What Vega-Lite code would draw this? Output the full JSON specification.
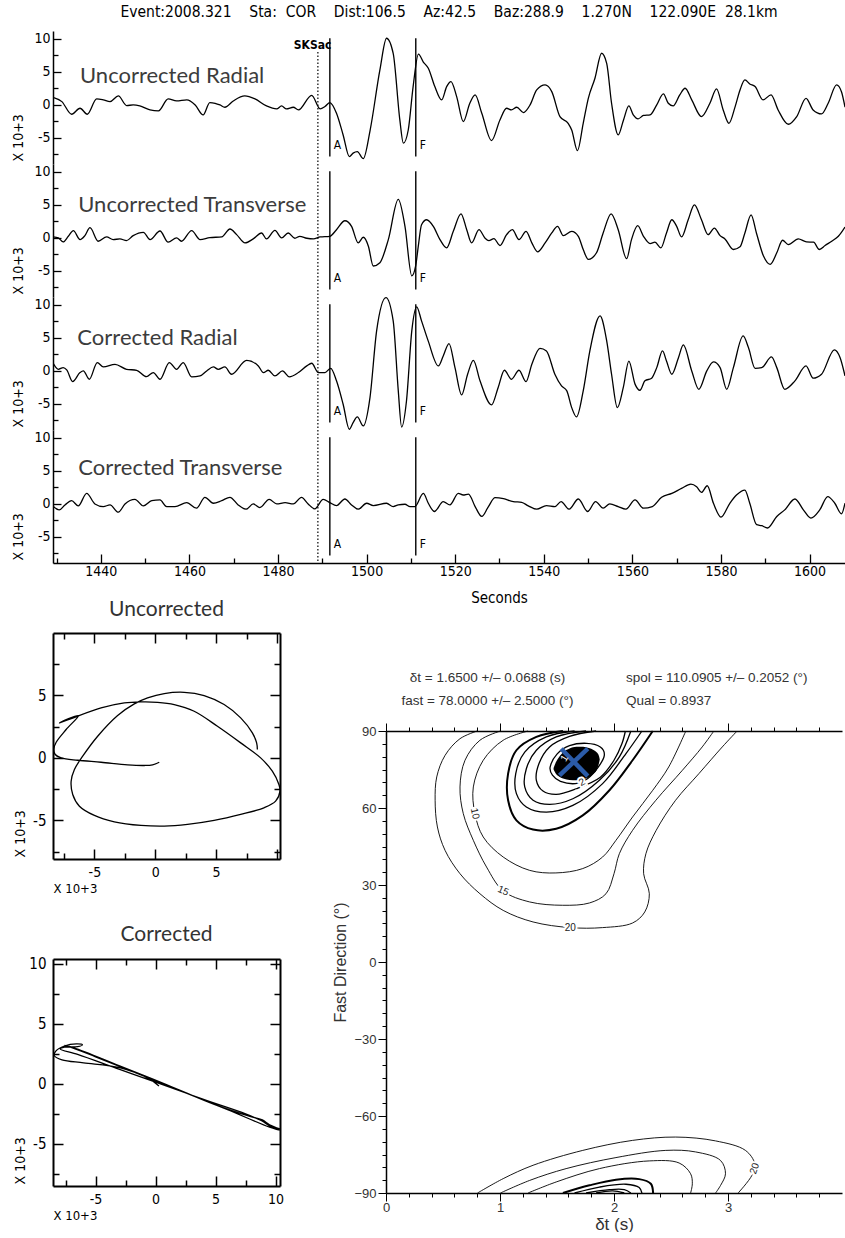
{
"$schema": "https://vega.github.io/schema/vega-lite/v6.json",
"background": "white",
"padding": {"left": 11, "top": 4, "right": 0, "bottom": 0},
"config": {
  "view": {"stroke": null},
  "axis": {"grid": false, "domainColor": "black", "tickColor": "black", "labelColor": "black", "titleColor": "black", "labelOverlap": false, "labelBound": false, "labelFlush": false, "titleFontWeight": "normal"},
  "title": {"fontWeight": "normal"}
},
"datasets": {
  "ur": [{"t":1429.2,"v":1.16},{"t":1431.2,"v":0.5},{"t":1433.4,"v":-1.41},{"t":1435.3,"v":-0.5},{"t":1436.95,"v":-1.41},{"t":1439.06,"v":0.91},{"t":1440.56,"v":0.76},{"t":1442.07,"v":0.5},{"t":1443.95,"v":1.36},{"t":1445.83,"v":-0.1},{"t":1447.3,"v":0},{"t":1448.8,"v":-0.15},{"t":1451.1,"v":-0.76},{"t":1453.0,"v":-0.91},{"t":1455.2,"v":0.91},{"t":1457.1,"v":0.6},{"t":1459.4,"v":0.76},{"t":1461.3,"v":0},{"t":1463.1,"v":-1.52},{"t":1464.6,"v":0.35},{"t":1465.8,"v":0.25},{"t":1466.9,"v":0},{"t":1468.0,"v":-0.35},{"t":1469.9,"v":0.6},{"t":1472.5,"v":1.36},{"t":1474.8,"v":0.91},{"t":1477.4,"v":-0.15},{"t":1479.7,"v":-0.6},{"t":1480.8,"v":-0.15},{"t":1481.9,"v":-0.6},{"t":1483.45,"v":-0.35},{"t":1484.6,"v":-0.76},{"t":1487.6,"v":1.46},{"t":1489.5,"v":-0.6},{"t":1490.6,"v":-0.25},{"t":1491.7,"v":0.35},{"t":1493.2,"v":-1.26},{"t":1494.7,"v":-4.55},{"t":1496.1,"v":-7.83},{"t":1496.95,"v":-7.3},{"t":1497.9,"v":-7.07},{"t":1499.25,"v":-8.13},{"t":1500.8,"v":-3.8},{"t":1503.0,"v":5.3},{"t":1504.5,"v":10.1},{"t":1506.0,"v":7.8},{"t":1507.5,"v":-2.27},{"t":1508.3,"v":-5.8},{"t":1509.4,"v":-3.8},{"t":1510.5,"v":2.78},{"t":1511.7,"v":7.7},{"t":1512.8,"v":6.5},{"t":1513.93,"v":5.56},{"t":1515.4,"v":2.78},{"t":1516.94,"v":0.76},{"t":1518.07,"v":2.78},{"t":1519.05,"v":3.54},{"t":1520.33,"v":1.26},{"t":1521.83,"v":-2.53},{"t":1523.3,"v":0.25},{"t":1524.5,"v":1.52},{"t":1526.0,"v":-1.26},{"t":1528.2,"v":-5.4},{"t":1530.1,"v":-2.27},{"t":1531.6,"v":-0.5},{"t":1532.7,"v":-0.76},{"t":1533.9,"v":-0.35},{"t":1535.4,"v":-1.16},{"t":1536.9,"v":0},{"t":1538.4,"v":2.27},{"t":1540.3,"v":3.03},{"t":1541.8,"v":2.02},{"t":1543.65,"v":-1.77},{"t":1545.5,"v":-2.78},{"t":1546.3,"v":-3.79},{"t":1547.6,"v":-6.92},{"t":1548.9,"v":-2.78},{"t":1550.05,"v":1.0},{"t":1551.55,"v":4.04},{"t":1553.05,"v":7.83},{"t":1554.2,"v":6.3},{"t":1555.3,"v":0.25},{"t":1556.8,"v":-4.55},{"t":1558.0,"v":-2.27},{"t":1559.2,"v":-0.15},{"t":1560.2,"v":-1.5},{"t":1561.3,"v":-2.1},{"t":1562.5,"v":-1.6},{"t":1564.0,"v":-1.5},{"t":1565.5,"v":0},{"t":1567.0,"v":1.67},{"t":1568.1,"v":0.25},{"t":1569.2,"v":-0.15},{"t":1570.7,"v":1.52},{"t":1571.9,"v":2.53},{"t":1573.4,"v":0.76},{"t":1575.6,"v":-1.77},{"t":1577.5,"v":0.25},{"t":1579.0,"v":2.42},{"t":1580.5,"v":-0.76},{"t":1581.8,"v":-2.78},{"t":1583.2,"v":-0.25},{"t":1584.3,"v":2.27},{"t":1585.4,"v":3.79},{"t":1586.5,"v":3.18},{"t":1587.7,"v":2.78},{"t":1589.5,"v":0.76},{"t":1591.3,"v":1.52},{"t":1592.9,"v":-0.76},{"t":1595.2,"v":-2.93},{"t":1597.1,"v":-1.77},{"t":1599.2,"v":1.0},{"t":1600.8,"v":-0.76},{"t":1602.7,"v":-1.36},{"t":1604.2,"v":0.25},{"t":1606.1,"v":3.03},{"t":1607.2,"v":2.0},{"t":1608.0,"v":-0.35}],
  "ut": [{"t":1429.28,"v":0.15},{"t":1430.4,"v":0},{"t":1431.5,"v":-0.6},{"t":1432.66,"v":0.25},{"t":1433.8,"v":1.1},{"t":1435.3,"v":-0.25},{"t":1436.4,"v":0.35},{"t":1437.55,"v":1.55},{"t":1439.4,"v":-0.5},{"t":1441.3,"v":0.15},{"t":1442.8,"v":-0.25},{"t":1444.3,"v":-0.15},{"t":1445.8,"v":-0.4},{"t":1447.3,"v":0.35},{"t":1449.6,"v":0.85},{"t":1451.1,"v":-0.25},{"t":1453.35,"v":1.05},{"t":1455.2,"v":-0.65},{"t":1457.1,"v":0},{"t":1458.2,"v":-0.5},{"t":1460.5,"v":1.1},{"t":1462.4,"v":-0.25},{"t":1464.6,"v":0.05},{"t":1467.3,"v":0.15},{"t":1469.15,"v":1.35},{"t":1470.66,"v":0.5},{"t":1472.55,"v":-0.75},{"t":1474.4,"v":-0.15},{"t":1476.3,"v":0.75},{"t":1477.4,"v":-0.15},{"t":1479.3,"v":1.15},{"t":1480.8,"v":0},{"t":1482.3,"v":0.75},{"t":1483.8,"v":-0.05},{"t":1484.9,"v":0.25},{"t":1486.5,"v":-0.05},{"t":1488.0,"v":-0.15},{"t":1489.5,"v":0.15},{"t":1491.7,"v":0.25},{"t":1493.2,"v":1.25},{"t":1495.1,"v":2.6},{"t":1496.6,"v":1.75},{"t":1498.1,"v":-0.75},{"t":1499.25,"v":0.1},{"t":1500.4,"v":-1.25},{"t":1501.5,"v":-4.25},{"t":1503.0,"v":-3.75},{"t":1504.9,"v":-0.25},{"t":1507.15,"v":5.85},{"t":1508.66,"v":1.75},{"t":1510.2,"v":-5.75},{"t":1511.07,"v":-4.25},{"t":1511.67,"v":-1.25},{"t":1512.4,"v":2.0},{"t":1513.55,"v":2.75},{"t":1515.06,"v":1.75},{"t":1516.56,"v":-0.25},{"t":1518.07,"v":-1.5},{"t":1519.57,"v":1.0},{"t":1521.3,"v":3.65},{"t":1522.6,"v":1.25},{"t":1523.7,"v":-0.75},{"t":1525.37,"v":1.25},{"t":1526.7,"v":0},{"t":1527.6,"v":-0.4},{"t":1528.75,"v":-0.1},{"t":1530.1,"v":-1.15},{"t":1531.6,"v":0.5},{"t":1532.9,"v":1.25},{"t":1534.4,"v":-0.25},{"t":1536.0,"v":1.0},{"t":1537.3,"v":-0.75},{"t":1538.6,"v":-2.1},{"t":1540.3,"v":-0.75},{"t":1541.8,"v":0.75},{"t":1543.1,"v":1.75},{"t":1544.4,"v":0.35},{"t":1546.3,"v":1.0},{"t":1547.8,"v":0.25},{"t":1548.9,"v":-1.75},{"t":1550.05,"v":-3.25},{"t":1551.9,"v":-2.25},{"t":1553.4,"v":0.75},{"t":1555.2,"v":3.65},{"t":1556.8,"v":1.25},{"t":1558.7,"v":-3.15},{"t":1559.8,"v":-0.25},{"t":1561.2,"v":1.85},{"t":1562.5,"v":0.25},{"t":1564.0,"v":-0.85},{"t":1565.1,"v":-0.65},{"t":1566.45,"v":-1.5},{"t":1567.7,"v":0.75},{"t":1568.9,"v":2.75},{"t":1570.0,"v":1.75},{"t":1571.1,"v":0.15},{"t":1572.6,"v":2.75},{"t":1574.0,"v":5.0},{"t":1575.6,"v":2.75},{"t":1577.1,"v":0.5},{"t":1578.5,"v":1.5},{"t":1579.8,"v":0.35},{"t":1580.9,"v":-0.15},{"t":1582.8,"v":-1.75},{"t":1584.3,"v":-1.35},{"t":1585.4,"v":0.75},{"t":1586.8,"v":3.5},{"t":1588.0,"v":0.75},{"t":1589.6,"v":-2.75},{"t":1591.1,"v":-4.0},{"t":1592.6,"v":-2.25},{"t":1593.9,"v":-0.35},{"t":1595.2,"v":-1.0},{"t":1597.45,"v":-0.15},{"t":1599.3,"v":-0.6},{"t":1600.9,"v":-0.65},{"t":1602.2,"v":-1.75},{"t":1603.5,"v":-1.15},{"t":1605.0,"v":-0.5},{"t":1606.5,"v":0.25},{"t":1608.0,"v":1.65}],
  "cr": [{"t":1429.28,"v":1.11},{"t":1430.4,"v":0.25},{"t":1431.5,"v":0.5},{"t":1432.3,"v":0.15},{"t":1433.64,"v":-1.62},{"t":1435.3,"v":-0.25},{"t":1436.05,"v":0},{"t":1437.4,"v":-1.26},{"t":1439.2,"v":1.26},{"t":1440.56,"v":0.6},{"t":1443.2,"v":1.0},{"t":1445.8,"v":0.25},{"t":1448.1,"v":0.1},{"t":1450.3,"v":-0.86},{"t":1451.85,"v":-0.25},{"t":1453.35,"v":-1.26},{"t":1455.46,"v":1.26},{"t":1457.1,"v":0.25},{"t":1458.6,"v":1.26},{"t":1460.5,"v":-0.9},{"t":1462.4,"v":-0.76},{"t":1463.9,"v":0},{"t":1465.4,"v":0.6},{"t":1466.5,"v":0.25},{"t":1468.0,"v":0.6},{"t":1469.5,"v":-0.5},{"t":1472.9,"v":1.6},{"t":1475.55,"v":0.76},{"t":1476.7,"v":-0.25},{"t":1477.8,"v":0.1},{"t":1479.3,"v":-0.76},{"t":1481.0,"v":0},{"t":1482.55,"v":-0.9},{"t":1484.6,"v":-0.25},{"t":1486.5,"v":0.76},{"t":1487.6,"v":1.16},{"t":1489.1,"v":-0.25},{"t":1490.6,"v":-0.25},{"t":1491.9,"v":0.4},{"t":1493.2,"v":-1.5},{"t":1494.7,"v":-5.05},{"t":1496.1,"v":-8.84},{"t":1496.95,"v":-7.83},{"t":1497.9,"v":-6.97},{"t":1499.25,"v":-8.33},{"t":1500.76,"v":-4.04},{"t":1502.26,"v":6.06},{"t":1504.37,"v":11.1},{"t":1506.0,"v":7.58},{"t":1507.15,"v":-3.03},{"t":1507.9,"v":-8.5},{"t":1509.0,"v":-4.55},{"t":1510.2,"v":6.06},{"t":1511.3,"v":9.7},{"t":1512.4,"v":7.58},{"t":1513.9,"v":4.55},{"t":1516.2,"v":0.76},{"t":1517.3,"v":2.27},{"t":1518.6,"v":4.14},{"t":1519.95,"v":0.5},{"t":1521.45,"v":-3.64},{"t":1522.8,"v":-0.5},{"t":1524.1,"v":1.6},{"t":1525.6,"v":-1.5},{"t":1528.2,"v":-5.15},{"t":1529.7,"v":-2.5},{"t":1531.1,"v":0.1},{"t":1532.7,"v":-1.26},{"t":1534.4,"v":0.1},{"t":1536.0,"v":-1.62},{"t":1537.3,"v":1.0},{"t":1539.14,"v":3.43},{"t":1540.6,"v":3.03},{"t":1542.5,"v":-0.5},{"t":1544.0,"v":-2.27},{"t":1545.2,"v":-3.03},{"t":1546.3,"v":-5.56},{"t":1547.4,"v":-6.97},{"t":1548.9,"v":-3.03},{"t":1550.4,"v":3.03},{"t":1552.7,"v":8.33},{"t":1554.2,"v":4.55},{"t":1555.3,"v":-0.5},{"t":1556.6,"v":-5.56},{"t":1557.95,"v":-2.5},{"t":1559.2,"v":1.5},{"t":1560.6,"v":-2.0},{"t":1561.7,"v":-2.93},{"t":1562.84,"v":-1.5},{"t":1564.35,"v":-1.1},{"t":1565.5,"v":0.5},{"t":1566.8,"v":3.03},{"t":1567.7,"v":1.5},{"t":1568.9,"v":-0.5},{"t":1570.4,"v":2.0},{"t":1571.5,"v":3.94},{"t":1573.4,"v":0},{"t":1575.0,"v":-2.78},{"t":1576.8,"v":0},{"t":1578.3,"v":1.36},{"t":1579.8,"v":0.5},{"t":1581.3,"v":-2.78},{"t":1582.8,"v":0.5},{"t":1585.0,"v":5.3},{"t":1586.2,"v":3.54},{"t":1587.7,"v":0.4},{"t":1589.2,"v":0.5},{"t":1591.4,"v":2.12},{"t":1592.6,"v":0.5},{"t":1594.4,"v":-2.78},{"t":1596.7,"v":-1.5},{"t":1599.2,"v":0.76},{"t":1600.8,"v":-1.1},{"t":1602.7,"v":-0.5},{"t":1605.6,"v":3.2},{"t":1606.9,"v":2.0},{"t":1608.0,"v":-0.76}],
  "ct": [{"t":1429.28,"v":-0.4},{"t":1430.6,"v":-0.9},{"t":1431.9,"v":-0.15},{"t":1433.4,"v":0.5},{"t":1434.9,"v":-0.3},{"t":1436.8,"v":1.6},{"t":1438.66,"v":0},{"t":1440.56,"v":-0.4},{"t":1442.07,"v":-0.15},{"t":1443.95,"v":-1.25},{"t":1445.45,"v":0},{"t":1447.7,"v":0.7},{"t":1449.6,"v":-0.3},{"t":1451.5,"v":0.5},{"t":1453.35,"v":0.6},{"t":1454.86,"v":-0.4},{"t":1456.74,"v":-0.4},{"t":1459.4,"v":0.2},{"t":1461.6,"v":-0.65},{"t":1463.5,"v":1.0},{"t":1465.4,"v":0.1},{"t":1467.3,"v":0.5},{"t":1469.15,"v":1.0},{"t":1471.0,"v":-0.15},{"t":1472.8,"v":-0.8},{"t":1474.4,"v":0},{"t":1475.9,"v":-0.55},{"t":1478.0,"v":0.7},{"t":1479.7,"v":0},{"t":1481.6,"v":0.2},{"t":1483.45,"v":0},{"t":1485.3,"v":1.0},{"t":1486.8,"v":0},{"t":1488.3,"v":-0.75},{"t":1490.2,"v":0.7},{"t":1491.7,"v":0.2},{"t":1493.2,"v":-0.25},{"t":1495.1,"v":0.75},{"t":1496.6,"v":-0.15},{"t":1498.1,"v":-0.8},{"t":1500.0,"v":0.1},{"t":1501.5,"v":-0.25},{"t":1504.5,"v":0.1},{"t":1506.0,"v":-0.4},{"t":1507.15,"v":-0.15},{"t":1508.66,"v":-0.05},{"t":1509.8,"v":-0.4},{"t":1510.9,"v":-0.4},{"t":1512.8,"v":1.6},{"t":1513.93,"v":0.1},{"t":1515.3,"v":-1.15},{"t":1517.3,"v":0.35},{"t":1518.8,"v":-0.15},{"t":1520.7,"v":1.6},{"t":1521.8,"v":1.35},{"t":1523.0,"v":1.5},{"t":1524.5,"v":-0.4},{"t":1526.0,"v":-1.9},{"t":1527.5,"v":-0.4},{"t":1529.0,"v":0.95},{"t":1530.9,"v":0.8},{"t":1533.1,"v":0.35},{"t":1535.0,"v":0.25},{"t":1536.5,"v":-0.3},{"t":1538.4,"v":-0.8},{"t":1540.6,"v":-0.25},{"t":1542.5,"v":-0.4},{"t":1543.9,"v":0.35},{"t":1545.7,"v":-0.8},{"t":1547.8,"v":0.75},{"t":1549.9,"v":-1.15},{"t":1551.7,"v":0.35},{"t":1553.4,"v":-0.65},{"t":1554.9,"v":0},{"t":1556.8,"v":-0.4},{"t":1558.5,"v":-0.8},{"t":1560.6,"v":0.6},{"t":1562.5,"v":-0.65},{"t":1564.5,"v":-0.4},{"t":1566.6,"v":1.0},{"t":1568.9,"v":1.6},{"t":1571.1,"v":2.35},{"t":1573.2,"v":3.0},{"t":1574.5,"v":2.6},{"t":1575.6,"v":1.75},{"t":1576.9,"v":2.75},{"t":1578.3,"v":0.1},{"t":1580.0,"v":-2.0},{"t":1582.0,"v":0.1},{"t":1583.5,"v":1.35},{"t":1585.4,"v":2.1},{"t":1586.5,"v":0.1},{"t":1588.05,"v":-3.15},{"t":1589.2,"v":-3.3},{"t":1590.5,"v":-3.65},{"t":1592.6,"v":-1.9},{"t":1594.4,"v":-0.9},{"t":1596.7,"v":0.75},{"t":1598.6,"v":-0.9},{"t":1600.3,"v":-2.15},{"t":1602.3,"v":-0.9},{"t":1604.1,"v":1.1},{"t":1605.7,"v":0.1},{"t":1607.2,"v":-1.5},{"t":1608.0,"v":0.1}],
  "picks": [{"t":1491.7,"lbl":"A"},{"t":1511.1,"lbl":"F"}],
  "sks": [{"t":1489.0,"lt":1487.8,"name":"SKSac"}],
  "pm_u": [{"i":1,"x":0.33,"y":-0.35},{"i":2,"x":-0.22,"y":-0.56},{"i":3,"x":-0.9,"y":-0.61},{"i":4,"x":-2.27,"y":-0.56},{"i":5,"x":-4.45,"y":-0.35},{"i":6,"x":-6.37,"y":-0.19},{"i":7,"x":-7.73,"y":0.0},{"i":8,"x":-8.22,"y":0.27},{"i":9,"x":-8.33,"y":0.72},{"i":10,"x":-8.14,"y":1.25},{"i":11,"x":-7.32,"y":2.27},{"i":12,"x":-6.31,"y":3.39},{"i":13,"x":-7.87,"y":2.8},{"i":14,"x":-6.9,"y":3.15},{"i":15,"x":-4.45,"y":4.0},{"i":16,"x":-2.54,"y":4.4},{"i":17,"x":-1.17,"y":4.48},{"i":18,"x":0.19,"y":4.45},{"i":19,"x":1.56,"y":4.27},{"i":20,"x":3.2,"y":3.73},{"i":21,"x":5.11,"y":2.53},{"i":22,"x":7.02,"y":1.2},{"i":23,"x":8.66,"y":0},{"i":24,"x":9.62,"y":-1.07},{"i":25,"x":10.16,"y":-2.13},{"i":26,"x":10.25,"y":-2.67},{"i":27,"x":9.89,"y":-3.47},{"i":28,"x":8.93,"y":-4.0},{"i":29,"x":7.02,"y":-4.53},{"i":30,"x":4.84,"y":-5.01},{"i":31,"x":2.65,"y":-5.33},{"i":32,"x":0.74,"y":-5.47},{"i":33,"x":-1.17,"y":-5.41},{"i":34,"x":-3.36,"y":-5.12},{"i":35,"x":-5.0,"y":-4.61},{"i":36,"x":-6.23,"y":-3.87},{"i":37,"x":-6.78,"y":-2.93},{"i":38,"x":-6.91,"y":-1.87},{"i":39,"x":-6.64,"y":-0.93},{"i":40,"x":-5.96,"y":0.13},{"i":41,"x":-4.73,"y":1.73},{"i":42,"x":-3.09,"y":3.39},{"i":43,"x":-1.72,"y":4.32},{"i":44,"x":-0.63,"y":4.8},{"i":45,"x":0.74,"y":5.15},{"i":46,"x":2.38,"y":5.25},{"i":47,"x":4.02,"y":4.99},{"i":48,"x":5.66,"y":4.27},{"i":49,"x":7.02,"y":3.2},{"i":50,"x":7.98,"y":2.0},{"i":51,"x":8.33,"y":1.2},{"i":52,"x":8.39,"y":0.67}],
  "pm_c": [{"i":1,"x":0.28,"y":-0.17},{"i":2,"x":-0.6,"y":0.45},{"i":3,"x":-3.0,"y":1.35},{"i":4,"x":-6.0,"y":1.75},{"i":5,"x":-7.8,"y":2.0},{"i":6,"x":-8.45,"y":2.35},{"i":7,"x":-8.3,"y":2.75},{"i":8,"x":-7.6,"y":3.15},{"i":9,"x":-6.6,"y":3.32},{"i":10,"x":-6.1,"y":3.25},{"i":11,"x":-6.5,"y":3.1},{"i":12,"x":-7.6,"y":3.05},{"i":13,"x":-7.95,"y":2.9},{"i":14,"x":-6.5,"y":2.45},{"i":15,"x":-3.0,"y":1.2},{"i":16,"x":0.0,"y":0.15},{"i":17,"x":4.0,"y":-1.3},{"i":18,"x":7.5,"y":-2.5},{"i":19,"x":8.8,"y":-3.05},{"i":20,"x":9.6,"y":-3.55},{"i":21,"x":10.36,"y":-3.85},{"i":22,"x":9.5,"y":-3.6},{"i":23,"x":6.0,"y":-2.15},{"i":24,"x":2.0,"y":-0.55},{"i":25,"x":-2.0,"y":1.05},{"i":26,"x":-5.0,"y":2.25},{"i":27,"x":-7.2,"y":3.1},{"i":28,"x":-7.6,"y":3.2},{"i":29,"x":-6.8,"y":3.0},{"i":30,"x":-3.0,"y":1.5},{"i":31,"x":1.0,"y":-0.1},{"i":32,"x":5.0,"y":-1.75},{"i":33,"x":8.0,"y":-2.75},{"i":34,"x":8.9,"y":-3.0},{"i":35,"x":9.5,"y":-3.4},{"i":36,"x":10.36,"y":-3.75}],
  "ctr": [
    {"seg":"20t","grp":"o","i":0,"dt":0.80,"phi":90},{"seg":"20t","grp":"o","i":1,"dt":0.649,"phi":87.0},{"seg":"20t","grp":"o","i":2,"dt":0.518,"phi":80.5},{"seg":"20t","grp":"o","i":3,"dt":0.445,"phi":72.1},{"seg":"20t","grp":"o","i":4,"dt":0.431,"phi":63.0},{"seg":"20t","grp":"o","i":5,"dt":0.451,"phi":52.6},{"seg":"20t","grp":"o","i":6,"dt":0.518,"phi":43.5},{"seg":"20t","grp":"o","i":7,"dt":0.649,"phi":34.4},{"seg":"20t","grp":"o","i":8,"dt":0.824,"phi":26.6},{"seg":"20t","grp":"o","i":9,"dt":1.028,"phi":20.1},{"seg":"20t","grp":"o","i":10,"dt":1.29,"phi":15.6},{"seg":"20t","grp":"o","i":11,"dt":1.616,"phi":13.4},{"seg":"20t","grp":"o","i":12,"dt":1.90,"phi":13.4},{"seg":"20t","grp":"o","i":13,"dt":2.163,"phi":15.2},{"seg":"20t","grp":"o","i":14,"dt":2.27,"phi":19.5},{"seg":"20t","grp":"o","i":15,"dt":2.31,"phi":26.6},{"seg":"20t","grp":"o","i":16,"dt":2.26,"phi":34.4},{"seg":"20t","grp":"o","i":17,"dt":2.28,"phi":42.2},{"seg":"20t","grp":"o","i":18,"dt":2.37,"phi":51.3},{"seg":"20t","grp":"o","i":19,"dt":2.54,"phi":63.0},{"seg":"20t","grp":"o","i":20,"dt":2.745,"phi":73.4},{"seg":"20t","grp":"o","i":21,"dt":2.95,"phi":83.8},{"seg":"20t","grp":"o","i":22,"dt":3.08,"phi":90},
    {"seg":"15t","grp":"o","i":0,"dt":1.004,"phi":90},{"seg":"15t","grp":"o","i":1,"dt":0.824,"phi":86.4},{"seg":"15t","grp":"o","i":2,"dt":0.693,"phi":78.6},{"seg":"15t","grp":"o","i":3,"dt":0.649,"phi":68.2},{"seg":"15t","grp":"o","i":4,"dt":0.678,"phi":57.8},{"seg":"15t","grp":"o","i":5,"dt":0.766,"phi":47.4},{"seg":"15t","grp":"o","i":6,"dt":0.882,"phi":37.0},{"seg":"15t","grp":"o","i":7,"dt":1.028,"phi":27.7},{"seg":"15t","grp":"o","i":8,"dt":1.26,"phi":23.4},{"seg":"15t","grp":"o","i":9,"dt":1.55,"phi":22.1},{"seg":"15t","grp":"o","i":10,"dt":1.785,"phi":23.0},{"seg":"15t","grp":"o","i":11,"dt":1.93,"phi":26.6},{"seg":"15t","grp":"o","i":12,"dt":2.0,"phi":34.4},{"seg":"15t","grp":"o","i":13,"dt":2.047,"phi":42.2},{"seg":"15t","grp":"o","i":14,"dt":2.163,"phi":51.3},{"seg":"15t","grp":"o","i":15,"dt":2.367,"phi":63.0},{"seg":"15t","grp":"o","i":16,"dt":2.6,"phi":74.7},{"seg":"15t","grp":"o","i":17,"dt":2.774,"phi":83.8},{"seg":"15t","grp":"o","i":18,"dt":2.876,"phi":90},
    {"seg":"10t","grp":"o","i":0,"dt":1.246,"phi":90},{"seg":"10t","grp":"o","i":1,"dt":1.028,"phi":86.4},{"seg":"10t","grp":"o","i":2,"dt":0.853,"phi":78.6},{"seg":"10t","grp":"o","i":3,"dt":0.766,"phi":68.2},{"seg":"10t","grp":"o","i":4,"dt":0.78,"phi":57.8},{"seg":"10t","grp":"o","i":5,"dt":0.853,"phi":48.7},{"seg":"10t","grp":"o","i":6,"dt":1.028,"phi":40.9},{"seg":"10t","grp":"o","i":7,"dt":1.26,"phi":35.7},{"seg":"10t","grp":"o","i":8,"dt":1.49,"phi":34.7},{"seg":"10t","grp":"o","i":9,"dt":1.726,"phi":36.4},{"seg":"10t","grp":"o","i":10,"dt":1.90,"phi":40.9},{"seg":"10t","grp":"o","i":11,"dt":2.017,"phi":47.4},{"seg":"10t","grp":"o","i":12,"dt":2.163,"phi":56.5},{"seg":"10t","grp":"o","i":13,"dt":2.34,"phi":66.9},{"seg":"10t","grp":"o","i":14,"dt":2.48,"phi":76.0},{"seg":"10t","grp":"o","i":15,"dt":2.63,"phi":90},
    {"seg":"5t","grp":"k","i":0,"dt":1.552,"phi":90},{"seg":"5t","grp":"k","i":1,"dt":1.319,"phi":87.7},{"seg":"5t","grp":"k","i":2,"dt":1.144,"phi":82.5},{"seg":"5t","grp":"k","i":3,"dt":1.071,"phi":73.4},{"seg":"5t","grp":"k","i":4,"dt":1.071,"phi":63.0},{"seg":"5t","grp":"k","i":5,"dt":1.144,"phi":55.2},{"seg":"5t","grp":"k","i":6,"dt":1.29,"phi":51.6},{"seg":"5t","grp":"k","i":7,"dt":1.493,"phi":51.9},{"seg":"5t","grp":"k","i":8,"dt":1.726,"phi":57.1},{"seg":"5t","grp":"k","i":9,"dt":1.96,"phi":66.9},{"seg":"5t","grp":"k","i":10,"dt":2.163,"phi":78.6},{"seg":"5t","grp":"k","i":11,"dt":2.34,"phi":90},
    {"seg":"4t","grp":"n","i":0,"dt":1.654,"phi":90},{"seg":"4t","grp":"n","i":1,"dt":1.406,"phi":87.7},{"seg":"4t","grp":"n","i":2,"dt":1.217,"phi":81.8},{"seg":"4t","grp":"n","i":3,"dt":1.138,"phi":73.4},{"seg":"4t","grp":"n","i":4,"dt":1.144,"phi":65.6},{"seg":"4t","grp":"n","i":5,"dt":1.231,"phi":60.4},{"seg":"4t","grp":"n","i":6,"dt":1.406,"phi":58.4},{"seg":"4t","grp":"n","i":7,"dt":1.639,"phi":61.0},{"seg":"4t","grp":"n","i":8,"dt":1.90,"phi":69.5},{"seg":"4t","grp":"n","i":9,"dt":2.105,"phi":81.2},{"seg":"4t","grp":"n","i":10,"dt":2.245,"phi":90},
    {"seg":"3t","grp":"n","i":0,"dt":1.755,"phi":90},{"seg":"3t","grp":"n","i":1,"dt":1.493,"phi":87.7},{"seg":"3t","grp":"n","i":2,"dt":1.319,"phi":82.5},{"seg":"3t","grp":"n","i":3,"dt":1.231,"phi":75.3},{"seg":"3t","grp":"n","i":4,"dt":1.217,"phi":68.2},{"seg":"3t","grp":"n","i":5,"dt":1.29,"phi":63.0},{"seg":"3t","grp":"n","i":6,"dt":1.435,"phi":61.4},{"seg":"3t","grp":"n","i":7,"dt":1.639,"phi":63.6},{"seg":"3t","grp":"n","i":8,"dt":1.872,"phi":70.8},{"seg":"3t","grp":"n","i":9,"dt":2.047,"phi":79.9},{"seg":"3t","grp":"n","i":10,"dt":2.148,"phi":90},
    {"seg":"25t","grp":"n","i":0,"dt":1.843,"phi":90},{"seg":"25t","grp":"n","i":1,"dt":1.61,"phi":87.9},{"seg":"25t","grp":"n","i":2,"dt":1.435,"phi":83.8},{"seg":"25t","grp":"n","i":3,"dt":1.342,"phi":77.3},{"seg":"25t","grp":"n","i":4,"dt":1.319,"phi":70.8},{"seg":"25t","grp":"n","i":5,"dt":1.377,"phi":66.6},{"seg":"25t","grp":"n","i":6,"dt":1.493,"phi":65.3},{"seg":"25t","grp":"n","i":7,"dt":1.668,"phi":67.5},{"seg":"25t","grp":"n","i":8,"dt":1.88,"phi":72.0},{"seg":"25t","grp":"n","i":9,"dt":2.0,"phi":78.6},{"seg":"25t","grp":"n","i":10,"dt":2.07,"phi":85.1},{"seg":"25t","grp":"n","i":11,"dt":2.1,"phi":90},
    {"seg":"20b","grp":"o","i":0,"dt":0.803,"phi":-90},{"seg":"20b","grp":"o","i":1,"dt":1.028,"phi":-84.4},{"seg":"20b","grp":"o","i":2,"dt":1.29,"phi":-79.2},{"seg":"20b","grp":"o","i":3,"dt":1.726,"phi":-73.4},{"seg":"20b","grp":"o","i":4,"dt":2.163,"phi":-69.5},{"seg":"20b","grp":"o","i":5,"dt":2.541,"phi":-68.2},{"seg":"20b","grp":"o","i":6,"dt":2.891,"phi":-69.7},{"seg":"20b","grp":"o","i":7,"dt":3.153,"phi":-73.4},{"seg":"20b","grp":"o","i":8,"dt":3.234,"phi":-78.6},{"seg":"20b","grp":"o","i":9,"dt":3.21,"phi":-83.1},{"seg":"20b","grp":"o","i":10,"dt":3.089,"phi":-90},
    {"seg":"15b","grp":"o","i":0,"dt":1.004,"phi":-90},{"seg":"15b","grp":"o","i":1,"dt":1.26,"phi":-85.1},{"seg":"15b","grp":"o","i":2,"dt":1.58,"phi":-80.5},{"seg":"15b","grp":"o","i":3,"dt":2.017,"phi":-76.2},{"seg":"15b","grp":"o","i":4,"dt":2.454,"phi":-73.4},{"seg":"15b","grp":"o","i":5,"dt":2.716,"phi":-74.0},{"seg":"15b","grp":"o","i":6,"dt":2.934,"phi":-77.3},{"seg":"15b","grp":"o","i":7,"dt":2.978,"phi":-82.5},{"seg":"15b","grp":"o","i":8,"dt":2.934,"phi":-87.1},{"seg":"15b","grp":"o","i":9,"dt":2.891,"phi":-90},
    {"seg":"10b","grp":"o","i":0,"dt":1.246,"phi":-90},{"seg":"10b","grp":"o","i":1,"dt":1.493,"phi":-85.7},{"seg":"10b","grp":"o","i":2,"dt":1.872,"phi":-80.5},{"seg":"10b","grp":"o","i":3,"dt":2.309,"phi":-77.5},{"seg":"10b","grp":"o","i":4,"dt":2.571,"phi":-78.3},{"seg":"10b","grp":"o","i":5,"dt":2.672,"phi":-82.5},{"seg":"10b","grp":"o","i":6,"dt":2.687,"phi":-86.4},{"seg":"10b","grp":"o","i":7,"dt":2.672,"phi":-90},
    {"seg":"5b","grp":"k","i":0,"dt":1.552,"phi":-90},{"seg":"5b","grp":"k","i":1,"dt":1.785,"phi":-87.0},{"seg":"5b","grp":"k","i":2,"dt":2.017,"phi":-84.8},{"seg":"5b","grp":"k","i":3,"dt":2.221,"phi":-84.6},{"seg":"5b","grp":"k","i":4,"dt":2.323,"phi":-86.4},{"seg":"5b","grp":"k","i":5,"dt":2.343,"phi":-90},
    {"seg":"4b","grp":"n","i":0,"dt":1.654,"phi":-90},{"seg":"4b","grp":"n","i":1,"dt":1.872,"phi":-87.7},{"seg":"4b","grp":"n","i":2,"dt":2.105,"phi":-86.6},{"seg":"4b","grp":"n","i":3,"dt":2.221,"phi":-87.9},{"seg":"4b","grp":"n","i":4,"dt":2.245,"phi":-90},
    {"seg":"3b","grp":"n","i":0,"dt":1.755,"phi":-90},{"seg":"3b","grp":"n","i":1,"dt":1.96,"phi":-88.7},{"seg":"3b","grp":"n","i":2,"dt":2.09,"phi":-88.7},{"seg":"3b","grp":"n","i":3,"dt":2.148,"phi":-90},
    {"seg":"25b","grp":"n","i":0,"dt":1.843,"phi":-90},{"seg":"25b","grp":"n","i":1,"dt":1.988,"phi":-89.2},{"seg":"25b","grp":"n","i":2,"dt":2.09,"phi":-90}
  ],
  "ring2": [{"i":0,"dt":1.44,"phi":76.0},{"i":1,"dt":1.50,"phi":81.0},{"i":2,"dt":1.61,"phi":84.3},{"i":3,"dt":1.76,"phi":85.2},{"i":4,"dt":1.88,"phi":83.8},{"i":5,"dt":1.915,"phi":80.5},{"i":6,"dt":1.86,"phi":75.8},{"i":7,"dt":1.77,"phi":71.5},{"i":8,"dt":1.66,"phi":69.5},{"i":9,"dt":1.53,"phi":70.4},{"i":10,"dt":1.46,"phi":72.8}],
  "conf": [{"dt":1.47,"hi":75.6,"lo":75.0},{"dt":1.49,"hi":77.8,"lo":73.3},{"dt":1.52,"hi":80.0,"lo":72.2},{"dt":1.56,"hi":81.9,"lo":71.4},{"dt":1.61,"hi":83.2,"lo":70.9},{"dt":1.67,"hi":83.9,"lo":70.8},{"dt":1.73,"hi":83.9,"lo":71.2},{"dt":1.78,"hi":83.4,"lo":72.0},{"dt":1.82,"hi":82.6,"lo":73.3},{"dt":1.85,"hi":81.6,"lo":75.0},{"dt":1.868,"hi":80.3,"lo":77.4},{"dt":1.875,"hi":78.9,"lo":78.9}],
  "cross": [{"dt":1.537,"phi":83.1,"dt2":1.77,"phi2":72.4},{"dt":1.522,"phi":72.7,"dt2":1.77,"phi2":83.1}],
  "clab": [{"dt":0.78,"phi":57.8,"lab":"10","ang":78},{"dt":1.028,"phi":27.7,"lab":"15","ang":22},{"dt":1.616,"phi":13.4,"lab":"20","ang":0},{"dt":1.72,"phi":70.0,"lab":"2","ang":-28},{"dt":3.234,"phi":-80.5,"lab":"20","ang":-72}]
},
"spacing": -6,
"vconcat": [
  {"bounds": "flush", "spacing": 0, "vconcat": [
    {"width": 792, "height": 133,
     "title": {"text": "Event:2008.321\u00a0\u00a0\u00a0\u00a0Sta:\u00a0\u00a0COR\u00a0\u00a0\u00a0\u00a0Dist:106.5\u00a0\u00a0\u00a0\u00a0Az:42.5\u00a0\u00a0\u00a0\u00a0Baz:288.9\u00a0\u00a0\u00a0\u00a01.270N\u00a0\u00a0\u00a0\u00a0122.090E\u00a0\u00a028.1km", "font": "DejaVu Sans Condensed, Liberation Sans Narrow, sans-serif", "fontSize": 15.5, "fontWeight": "normal", "color": "black", "offset": 11, "anchor": "middle"},
     "layer": [
      {"data": {"name": "ur"}, "mark": {"type": "line", "interpolate": "monotone", "color": "black", "strokeWidth": 1.3, "clip": true},
       "encoding": {"x": {"field": "t", "type": "quantitative", "scale": {"domain": [1429.2, 1608], "nice": false, "zero": false}, "axis": null},
         "y": {"field": "v", "type": "quantitative", "scale": {"domain": [-8.95, 11.2], "nice": false, "zero": false},
           "axis": {"values": [-7.5,-5,-2.5,0,2.5,5,7.5,10], "labelExpr": "datum.value % 5 === 0 ? '' + datum.value : ''", "labelOverlap": false, "tickSize": {"condition": {"test": "datum.value % 5 === 0", "value": -8}, "value": -5}, "tickWidth": 1.3, "domainWidth": 1.5, "labelFont": "Liberation Sans Narrow, DejaVu Sans Condensed, sans-serif", "labelFontSize": 14, "labelPadding": 11, "title": "X 10+3", "titleFont": "Liberation Sans Narrow, DejaVu Sans Condensed, sans-serif", "titleFontSize": 14, "titleX": -35, "titleY": 130, "titleAngle": -90, "titleAlign": "left", "titleBaseline": "middle"}}}},
      {"data": {"name": "picks"}, "mark": {"type": "rule", "color": "black", "strokeWidth": 1.4},
       "encoding": {"x": {"field": "t", "type": "quantitative", "axis": null}, "y": {"datum": 10.1, "type": "quantitative", "axis": null}, "y2": {"datum": -7.8}}},
      {"data": {"name": "picks"}, "mark": {"type": "text", "align": "left", "dx": 4, "font": "Liberation Sans Narrow, DejaVu Sans Condensed, sans-serif", "fontSize": 12, "color": "black"},
       "encoding": {"x": {"field": "t", "type": "quantitative", "axis": null}, "y": {"datum": -6.1, "type": "quantitative", "axis": null}, "text": {"field": "lbl"}}},
      {"data": {"name": "sks"}, "mark": {"type": "rule", "color": "black", "strokeWidth": 1.2, "strokeDash": [1.5, 2]},
       "encoding": {"x": {"field": "t", "type": "quantitative", "axis": null}, "y": {"datum": 8.0, "type": "quantitative", "axis": null}, "y2": {"datum": -8.95}}},
      {"data": {"name": "sks"}, "mark": {"type": "text", "align": "center", "font": "Liberation Sans Narrow, DejaVu Sans Condensed, sans-serif", "fontSize": 12, "fontWeight": "bold", "color": "black"},
       "encoding": {"x": {"field": "lt", "type": "quantitative", "axis": null}, "y": {"datum": 9.1, "type": "quantitative", "axis": null}, "text": {"field": "name"}}},
      {"data": {"values": [{"t": 1435.3, "v": 3.35, "name": "Uncorrected Radial"}]}, "mark": {"type": "text", "align": "left", "baseline": "alphabetic", "font": "Lato", "fontSize": 22, "color": "#3c3c3c"},
       "encoding": {"x": {"field": "t", "type": "quantitative", "axis": null}, "y": {"field": "v", "type": "quantitative", "axis": null}, "text": {"field": "name"}}}
     ],
     "resolve": {"axis": {"x": "independent", "y": "independent"}}},
    {"width": 792, "height": 133,
     "layer": [
      {"data": {"name": "ut"}, "mark": {"type": "line", "interpolate": "monotone", "color": "black", "strokeWidth": 1.3, "clip": true},
       "encoding": {"x": {"field": "t", "type": "quantitative", "scale": {"domain": [1429.2, 1608], "nice": false, "zero": false}, "axis": null},
         "y": {"field": "v", "type": "quantitative", "scale": {"domain": [-8.95, 11.2], "nice": false, "zero": false},
           "axis": {"values": [-7.5,-5,-2.5,0,2.5,5,7.5,10], "labelExpr": "datum.value % 5 === 0 ? '' + datum.value : ''", "labelOverlap": false, "tickSize": {"condition": {"test": "datum.value % 5 === 0", "value": -8}, "value": -5}, "tickWidth": 1.3, "domainWidth": 1.5, "labelFont": "Liberation Sans Narrow, DejaVu Sans Condensed, sans-serif", "labelFontSize": 14, "labelPadding": 11, "title": "X 10+3", "titleFont": "Liberation Sans Narrow, DejaVu Sans Condensed, sans-serif", "titleFontSize": 14, "titleX": -35, "titleY": 130, "titleAngle": -90, "titleAlign": "left", "titleBaseline": "middle"}}}},
      {"data": {"name": "picks"}, "mark": {"type": "rule", "color": "black", "strokeWidth": 1.4},
       "encoding": {"x": {"field": "t", "type": "quantitative", "axis": null}, "y": {"datum": 10.1, "type": "quantitative", "axis": null}, "y2": {"datum": -7.8}}},
      {"data": {"name": "picks"}, "mark": {"type": "text", "align": "left", "dx": 4, "font": "Liberation Sans Narrow, DejaVu Sans Condensed, sans-serif", "fontSize": 12, "color": "black"},
       "encoding": {"x": {"field": "t", "type": "quantitative", "axis": null}, "y": {"datum": -6.1, "type": "quantitative", "axis": null}, "text": {"field": "lbl"}}},
      {"data": {"name": "sks"}, "mark": {"type": "rule", "color": "black", "strokeWidth": 1.2, "strokeDash": [1.5, 2]},
       "encoding": {"x": {"field": "t", "type": "quantitative", "axis": null}, "y": {"datum": 11.2, "type": "quantitative", "axis": null}, "y2": {"datum": -8.95}}},
      {"data": {"values": [{"t": 1434.9, "v": 3.9, "name": "Uncorrected Transverse"}]}, "mark": {"type": "text", "align": "left", "baseline": "alphabetic", "font": "Lato", "fontSize": 22, "color": "#3c3c3c"},
       "encoding": {"x": {"field": "t", "type": "quantitative", "axis": null}, "y": {"field": "v", "type": "quantitative", "axis": null}, "text": {"field": "name"}}}
     ],
     "resolve": {"axis": {"x": "independent", "y": "independent"}}},
    {"width": 792, "height": 133,
     "layer": [
      {"data": {"name": "cr"}, "mark": {"type": "line", "interpolate": "monotone", "color": "black", "strokeWidth": 1.3, "clip": true},
       "encoding": {"x": {"field": "t", "type": "quantitative", "scale": {"domain": [1429.2, 1608], "nice": false, "zero": false}, "axis": null},
         "y": {"field": "v", "type": "quantitative", "scale": {"domain": [-8.95, 11.2], "nice": false, "zero": false},
           "axis": {"values": [-7.5,-5,-2.5,0,2.5,5,7.5,10], "labelExpr": "datum.value % 5 === 0 ? '' + datum.value : ''", "labelOverlap": false, "tickSize": {"condition": {"test": "datum.value % 5 === 0", "value": -8}, "value": -5}, "tickWidth": 1.3, "domainWidth": 1.5, "labelFont": "Liberation Sans Narrow, DejaVu Sans Condensed, sans-serif", "labelFontSize": 14, "labelPadding": 11, "title": "X 10+3", "titleFont": "Liberation Sans Narrow, DejaVu Sans Condensed, sans-serif", "titleFontSize": 14, "titleX": -35, "titleY": 130, "titleAngle": -90, "titleAlign": "left", "titleBaseline": "middle"}}}},
      {"data": {"name": "picks"}, "mark": {"type": "rule", "color": "black", "strokeWidth": 1.4},
       "encoding": {"x": {"field": "t", "type": "quantitative", "axis": null}, "y": {"datum": 10.1, "type": "quantitative", "axis": null}, "y2": {"datum": -7.8}}},
      {"data": {"name": "picks"}, "mark": {"type": "text", "align": "left", "dx": 4, "font": "Liberation Sans Narrow, DejaVu Sans Condensed, sans-serif", "fontSize": 12, "color": "black"},
       "encoding": {"x": {"field": "t", "type": "quantitative", "axis": null}, "y": {"datum": -6.1, "type": "quantitative", "axis": null}, "text": {"field": "lbl"}}},
      {"data": {"name": "sks"}, "mark": {"type": "rule", "color": "black", "strokeWidth": 1.2, "strokeDash": [1.5, 2]},
       "encoding": {"x": {"field": "t", "type": "quantitative", "axis": null}, "y": {"datum": 11.2, "type": "quantitative", "axis": null}, "y2": {"datum": -8.95}}},
      {"data": {"values": [{"t": 1434.7, "v": 3.9, "name": "Corrected Radial"}]}, "mark": {"type": "text", "align": "left", "baseline": "alphabetic", "font": "Lato", "fontSize": 22, "color": "#3c3c3c"},
       "encoding": {"x": {"field": "t", "type": "quantitative", "axis": null}, "y": {"field": "v", "type": "quantitative", "axis": null}, "text": {"field": "name"}}}
     ],
     "resolve": {"axis": {"x": "independent", "y": "independent"}}},
    {"width": 792, "height": 133,
     "layer": [
      {"data": {"name": "ct"}, "mark": {"type": "line", "interpolate": "monotone", "color": "black", "strokeWidth": 1.3, "clip": true},
       "encoding": {"x": {"field": "t", "type": "quantitative", "scale": {"domain": [1429.2, 1608], "nice": false, "zero": false},
           "axis": {"orient": "bottom", "values": [1430,1440,1450,1460,1470,1480,1490,1500,1510,1520,1530,1540,1550,1560,1570,1580,1590,1600], "labelExpr": "datum.value % 20 === 0 ? '' + datum.value : ''", "labelOverlap": false, "tickSize": {"condition": {"test": "datum.value % 20 === 0", "value": -9}, "value": -5}, "tickWidth": 1.3, "domainWidth": 1.5, "labelFont": "Liberation Sans Narrow, DejaVu Sans Condensed, sans-serif", "labelFontSize": 14, "labelPadding": 10, "title": "Seconds", "titleFont": "Liberation Sans Narrow, DejaVu Sans Condensed, sans-serif", "titleFontSize": 15, "titleX": 446, "titleY": 34, "titleBaseline": "middle", "titleAlign": "center"}},
         "y": {"field": "v", "type": "quantitative", "scale": {"domain": [-8.95, 11.2], "nice": false, "zero": false},
           "axis": {"values": [-7.5,-5,-2.5,0,2.5,5,7.5,10], "labelExpr": "datum.value % 5 === 0 ? '' + datum.value : ''", "labelOverlap": false, "tickSize": {"condition": {"test": "datum.value % 5 === 0", "value": -8}, "value": -5}, "tickWidth": 1.3, "domainWidth": 1.5, "labelFont": "Liberation Sans Narrow, DejaVu Sans Condensed, sans-serif", "labelFontSize": 14, "labelPadding": 11, "title": "X 10+3", "titleFont": "Liberation Sans Narrow, DejaVu Sans Condensed, sans-serif", "titleFontSize": 14, "titleX": -35, "titleY": 130, "titleAngle": -90, "titleAlign": "left", "titleBaseline": "middle"}}}},
      {"data": {"name": "picks"}, "mark": {"type": "rule", "color": "black", "strokeWidth": 1.4},
       "encoding": {"x": {"field": "t", "type": "quantitative", "axis": null}, "y": {"datum": 10.1, "type": "quantitative", "axis": null}, "y2": {"datum": -7.8}}},
      {"data": {"name": "picks"}, "mark": {"type": "text", "align": "left", "dx": 4, "font": "Liberation Sans Narrow, DejaVu Sans Condensed, sans-serif", "fontSize": 12, "color": "black"},
       "encoding": {"x": {"field": "t", "type": "quantitative", "axis": null}, "y": {"datum": -6.1, "type": "quantitative", "axis": null}, "text": {"field": "lbl"}}},
      {"data": {"name": "sks"}, "mark": {"type": "rule", "color": "black", "strokeWidth": 1.2, "strokeDash": [1.5, 2]},
       "encoding": {"x": {"field": "t", "type": "quantitative", "axis": null}, "y": {"datum": 11.2, "type": "quantitative", "axis": null}, "y2": {"datum": -8.95}}},
      {"data": {"values": [{"t": 1434.9, "v": 4.4, "name": "Corrected Transverse"}]}, "mark": {"type": "text", "align": "left", "baseline": "alphabetic", "font": "Lato", "fontSize": 22, "color": "#3c3c3c"},
       "encoding": {"x": {"field": "t", "type": "quantitative", "axis": null}, "y": {"field": "v", "type": "quantitative", "axis": null}, "text": {"field": "name"}}}
     ],
     "resolve": {"axis": {"x": "independent", "y": "independent"}}}
  ]},
  {"spacing": 48, "hconcat": [
    {"bounds": "flush", "spacing": 100, "vconcat": [
      {"width": 227, "height": 226,
       "title": {"text": "Uncorrected", "font": "Lato", "fontSize": 21, "fontWeight": "normal", "color": "#333333", "offset": 12},
       "data": {"name": "pm_u"},
       "layer": [
         {"mark": {"type": "line", "interpolate": "catmull-rom", "color": "black", "strokeWidth": 1.3},
          "encoding": {
            "x": {"field": "x", "type": "quantitative", "scale": {"domain": [-8.4, 10.25], "nice": false, "zero": false},
              "axis": {"values": [-7.5,-5,-2.5,0,2.5,5,7.5,10], "labelExpr": "datum.value % 5 === 0 && datum.value < 10 ? '' + datum.value : ''", "labelOverlap": false, "tickSize": {"condition": {"test": "datum.value % 5 === 0", "value": -10}, "value": -6}, "tickWidth": 1.5, "domainWidth": 2, "labelFont": "Liberation Sans Narrow, DejaVu Sans Condensed, sans-serif", "labelFontSize": 14, "labelPadding": 16, "title": "X 10+3", "titleFont": "Liberation Sans Narrow, DejaVu Sans Condensed, sans-serif", "titleFontSize": 13, "titleX": 0, "titleY": 29.5, "titleAlign": "left", "titleBaseline": "middle", "titleAngle": 0}},
            "y": {"field": "y", "type": "quantitative", "scale": {"domain": [-8.1, 10.0], "nice": false, "zero": false},
              "axis": {"values": [-7.5,-5,-2.5,0,2.5,5,7.5], "labelExpr": "datum.value % 5 === 0 ? '' + datum.value : ''", "labelOverlap": false, "tickSize": {"condition": {"test": "datum.value % 5 === 0", "value": -10}, "value": -6}, "tickWidth": 1.5, "domainWidth": 2, "labelFont": "Liberation Sans Narrow, DejaVu Sans Condensed, sans-serif", "labelFontSize": 15, "labelPadding": 17, "title": "X 10+3", "titleFont": "Liberation Sans Narrow, DejaVu Sans Condensed, sans-serif", "titleFontSize": 14, "titleX": -33, "titleY": 224, "titleAngle": -90, "titleAlign": "left", "titleBaseline": "middle"}},
            "order": {"field": "i", "type": "quantitative"}}},
         {"mark": {"type": "line", "opacity": 0},
          "encoding": {
            "x": {"field": "x", "type": "quantitative", "axis": {"orient": "top", "values": [-7.5,-5,-2.5,0,2.5,5,7.5,10], "labels": false, "title": null, "tickSize": {"condition": {"test": "datum.value % 5 === 0", "value": -10}, "value": -6}, "tickWidth": 1.5, "domainWidth": 2}},
            "y": {"field": "y", "type": "quantitative", "axis": {"orient": "right", "values": [-7.5,-5,-2.5,0,2.5,5,7.5], "labels": false, "title": null, "tickSize": {"condition": {"test": "datum.value % 5 === 0", "value": -10}, "value": -6}, "tickWidth": 1.5, "domainWidth": 2}},
            "order": {"field": "i", "type": "quantitative"}}}
       ],
       "resolve": {"axis": {"x": "independent", "y": "independent"}}},
      {"width": 227, "height": 227,
       "title": {"text": "Corrected", "font": "Lato", "fontSize": 21, "fontWeight": "normal", "color": "#333333", "offset": 12},
       "data": {"name": "pm_c"},
       "layer": [
         {"mark": {"type": "line", "interpolate": "catmull-rom", "color": "black", "strokeWidth": 1.3},
          "encoding": {
            "x": {"field": "x", "type": "quantitative", "scale": {"domain": [-8.55, 10.37], "nice": false, "zero": false},
              "axis": {"values": [-7.5,-5,-2.5,0,2.5,5,7.5,10], "labelExpr": "datum.value % 5 === 0 ? '' + datum.value : ''", "labelOverlap": false, "tickSize": {"condition": {"test": "datum.value % 5 === 0", "value": -10}, "value": -6}, "tickWidth": 1.5, "domainWidth": 2, "labelFont": "Liberation Sans Narrow, DejaVu Sans Condensed, sans-serif", "labelFontSize": 14, "labelPadding": 16, "title": "X 10+3", "titleFont": "Liberation Sans Narrow, DejaVu Sans Condensed, sans-serif", "titleFontSize": 13, "titleX": 0, "titleY": 29.5, "titleAlign": "left", "titleBaseline": "middle", "titleAngle": 0}},
            "y": {"field": "y", "type": "quantitative", "scale": {"domain": [-8.5, 10.39], "nice": false, "zero": false},
              "axis": {"values": [-7.5,-5,-2.5,0,2.5,5,7.5,10], "labelExpr": "datum.value % 5 === 0 ? '' + datum.value : ''", "labelOverlap": false, "tickSize": {"condition": {"test": "datum.value % 5 === 0", "value": -10}, "value": -6}, "tickWidth": 1.5, "domainWidth": 2, "labelFont": "Liberation Sans Narrow, DejaVu Sans Condensed, sans-serif", "labelFontSize": 15, "labelPadding": 17, "title": "X 10+3", "titleFont": "Liberation Sans Narrow, DejaVu Sans Condensed, sans-serif", "titleFontSize": 14, "titleX": -33, "titleY": 225, "titleAngle": -90, "titleAlign": "left", "titleBaseline": "middle"}},
            "order": {"field": "i", "type": "quantitative"}}},
         {"mark": {"type": "line", "opacity": 0},
          "encoding": {
            "x": {"field": "x", "type": "quantitative", "axis": {"orient": "top", "values": [-7.5,-5,-2.5,0,2.5,5,7.5,10], "labels": false, "title": null, "tickSize": {"condition": {"test": "datum.value % 5 === 0", "value": -10}, "value": -6}, "tickWidth": 1.5, "domainWidth": 2}},
            "y": {"field": "y", "type": "quantitative", "axis": {"orient": "right", "values": [-7.5,-5,-2.5,0,2.5,5,7.5,10], "labels": false, "title": null, "tickSize": {"condition": {"test": "datum.value % 5 === 0", "value": -10}, "value": -6}, "tickWidth": 1.5, "domainWidth": 2}},
            "order": {"field": "i", "type": "quantitative"}}}
       ],
       "resolve": {"axis": {"x": "independent", "y": "independent"}}}
    ]},
    {"bounds": "flush", "spacing": 0, "vconcat": [
      {"width": 456, "height": 98,
       "layer": [
         {"data": {"values": [{"dt": 0.89, "phi": 110.6, "txt": "δt = 1.6500 +/– 0.0688 (s)"}, {"dt": 0.89, "phi": 101.6, "txt": "fast = 78.0000 +/– 2.5000 (°)"}]},
          "mark": {"type": "text", "align": "center", "baseline": "middle", "font": "Liberation Sans", "fontSize": 13.5, "color": "#333333"},
          "encoding": {"x": {"field": "dt", "type": "quantitative", "scale": {"domain": [0, 4], "nice": false, "zero": false}, "axis": null},
            "y": {"field": "phi", "type": "quantitative", "scale": {"domain": [90, 128.18], "nice": false, "zero": false}, "axis": null},
            "text": {"field": "txt"}}},
         {"data": {"values": [{"dt": 2.105, "phi": 110.6, "txt": "spol = 110.0905 +/– 0.2052 (°)"}, {"dt": 2.105, "phi": 101.6, "txt": "Qual = 0.8937"}]},
          "mark": {"type": "text", "align": "left", "baseline": "middle", "font": "Liberation Sans", "fontSize": 13.5, "color": "#333333"},
          "encoding": {"x": {"field": "dt", "type": "quantitative", "axis": null},
            "y": {"field": "phi", "type": "quantitative", "axis": null},
            "text": {"field": "txt"}}}
       ]},
      {"width": 456, "height": 462,
       "layer": [
         {"data": {"name": "ctr"}, "transform": [{"filter": "datum.grp === 'o'"}],
          "mark": {"type": "line", "interpolate": "catmull-rom", "color": "black", "strokeWidth": 0.9},
          "encoding": {
            "x": {"field": "dt", "type": "quantitative", "scale": {"domain": [0, 4], "nice": false, "zero": false},
              "axis": {"values": [0,0.2,0.4,0.6,0.8,1,1.2,1.4,1.6,1.8,2,2.2,2.4,2.6,2.8,3,3.2,3.4,3.6,3.8], "labelExpr": "datum.value % 1 === 0 ? '' + datum.value : ''", "labelOverlap": false, "tickSize": {"condition": {"test": "datum.value % 1 === 0", "value": 8}, "value": 4}, "tickWidth": 1, "domainWidth": 1.5, "labelFont": "Liberation Sans", "labelFontSize": 13, "labelColor": "#333333", "labelPadding": 0, "title": "δt (s)", "titleFont": "Liberation Sans", "titleFontSize": 17, "titleColor": "#333333", "titlePadding": 2}},
            "y": {"field": "phi", "type": "quantitative", "scale": {"domain": [-90, 90], "nice": false, "zero": false},
              "axis": {"values": [-90,-85,-80,-75,-70,-65,-60,-55,-50,-45,-40,-35,-30,-25,-20,-15,-10,-5,0,5,10,15,20,25,30,35,40,45,50,55,60,65,70,75,80,85,90], "labelExpr": "datum.value % 30 === 0 ? datum.label : ''", "labelOverlap": false, "tickSize": {"condition": {"test": "datum.value % 30 === 0", "value": 8}, "value": 4}, "tickWidth": 1, "domainWidth": 1.5, "labelFont": "Liberation Sans", "labelFontSize": 13, "labelColor": "#333333", "labelPadding": 2, "title": "Fast Direction (°)", "titleFont": "Liberation Sans", "titleFontSize": 16, "titleColor": "#333333", "titlePadding": 5}},
            "detail": {"field": "seg"},
            "order": {"field": "i", "type": "quantitative"}}},
         {"data": {"name": "ctr"}, "transform": [{"filter": "datum.grp === 'n'"}],
          "mark": {"type": "line", "interpolate": "catmull-rom", "color": "black", "strokeWidth": 1.3},
          "encoding": {"x": {"field": "dt", "type": "quantitative", "axis": null}, "y": {"field": "phi", "type": "quantitative", "axis": null}, "detail": {"field": "seg"}, "order": {"field": "i", "type": "quantitative"}}},
         {"data": {"name": "ctr"}, "transform": [{"filter": "datum.grp === 'k'"}],
          "mark": {"type": "line", "interpolate": "catmull-rom", "color": "black", "strokeWidth": 2},
          "encoding": {"x": {"field": "dt", "type": "quantitative", "axis": null}, "y": {"field": "phi", "type": "quantitative", "axis": null}, "detail": {"field": "seg"}, "order": {"field": "i", "type": "quantitative"}}},
         {"data": {"name": "ring2"},
          "mark": {"type": "line", "interpolate": "cardinal-closed", "color": "black", "strokeWidth": 1.3},
          "encoding": {"x": {"field": "dt", "type": "quantitative", "axis": null}, "y": {"field": "phi", "type": "quantitative", "axis": null}, "order": {"field": "i", "type": "quantitative"}}},
         {"data": {"name": "conf"},
          "mark": {"type": "area", "interpolate": "monotone", "color": "black"},
          "encoding": {"x": {"field": "dt", "type": "quantitative", "axis": null}, "y": {"field": "hi", "type": "quantitative", "axis": null}, "y2": {"field": "lo"}}},
         {"data": {"name": "cross"},
          "mark": {"type": "rule", "color": "#2b5ba8", "strokeWidth": 4.5},
          "encoding": {"x": {"field": "dt", "type": "quantitative",
              "axis": {"orient": "top", "values": [0,0.2,0.4,0.6,0.8,1,1.2,1.4,1.6,1.8,2,2.2,2.4,2.6,2.8,3,3.2,3.4,3.6,3.8], "labels": false, "title": null, "tickSize": {"condition": {"test": "datum.value % 1 === 0", "value": 8}, "value": 4}, "tickWidth": 1, "domainWidth": 1.5}},
            "y": {"field": "phi", "type": "quantitative", "axis": null}, "x2": {"field": "dt2"}, "y2": {"field": "phi2"}}},
         {"data": {"name": "clab"},
          "mark": {"type": "text", "font": "Liberation Sans", "fontSize": 10, "color": "white", "stroke": "white", "strokeWidth": 4, "baseline": "middle", "align": "center"},
          "encoding": {"x": {"field": "dt", "type": "quantitative", "axis": null}, "y": {"field": "phi", "type": "quantitative", "axis": null}, "text": {"field": "lab"}, "angle": {"field": "ang", "type": "quantitative", "scale": null}}},
         {"data": {"name": "clab"},
          "mark": {"type": "text", "font": "Liberation Sans", "fontSize": 10, "color": "#222222", "baseline": "middle", "align": "center"},
          "encoding": {"x": {"field": "dt", "type": "quantitative", "axis": null}, "y": {"field": "phi", "type": "quantitative", "axis": null}, "text": {"field": "lab"}, "angle": {"field": "ang", "type": "quantitative", "scale": null}}},
         {"data": {"values": [{"dt": 1.566, "phi": 79.3, "lab": "1"}]},
          "mark": {"type": "text", "font": "Liberation Sans", "fontSize": 10, "color": "white", "baseline": "middle", "align": "center", "angle": 300},
          "encoding": {"x": {"field": "dt", "type": "quantitative", "axis": null}, "y": {"field": "phi", "type": "quantitative", "axis": null}, "text": {"field": "lab"}}}
       ],
       "resolve": {"axis": {"x": "independent", "y": "independent"}}}
    ]}
  ]}
]
}
